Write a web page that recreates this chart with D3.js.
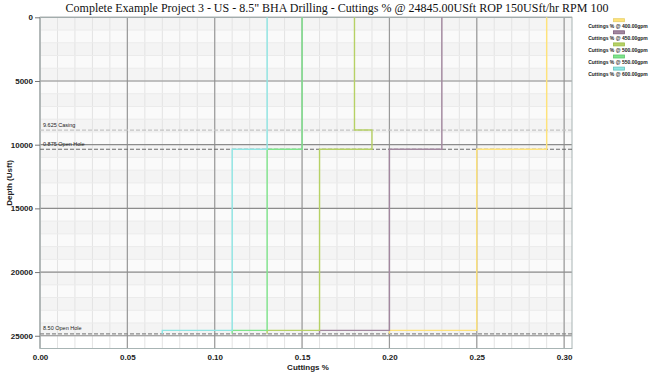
<!DOCTYPE html>
<html>
<head>
<meta charset="UTF-8">
<title>Cuttings % vs Depth</title>
<script src="https://cdn.jsdelivr.net/npm/d3@7"></script>
<style>
body { margin:0; background:#fff; }
text { font-family: "Liberation Sans", Arial, sans-serif; }
</style>
</head>
<body>
<script>
// section boundaries (USft): surface, casing shoe, open hole top, BHA top, TD
var depths = [0, 8850, 10360, 24580, 24845];
var flows = ["400.00", "450.00", "500.00", "550.00", "600.00"];
// cuttings % per section (one value for each interval between depths)
var cut400 = [0.29, 0.29, 0.25, 0.20];
var cut450 = [0.23, 0.23, 0.20, 0.16];
var cut500 = [0.18, 0.19, 0.16, 0.13];
var cut550 = [0.15, 0.15, 0.13, 0.11];
var cut600 = [0.13, 0.13, 0.11, 0.07];
var series = [cut400, cut450, cut500, cut550, cut600];
var lineColors = ["#ffe37a", "#a2879f", "#b6d165", "#7fe58c", "#8fe6e4"];
var swatchColors = ["#e6cf6a", "#7d5c7c", "#9cbd48", "#5cc86c", "#62c3bc"];

var casings = [
  {depth: 8850, label: "9.625 Casing", color: "#c4c4c4"},
  {depth: 10360, label: "0.875 Open Hole", color: "#6a6a6a"},
  {depth: 24845, label: "8.50 Open Hole", color: "#8a8a8a"}
];
var xTicks = [0, 0.05, 0.10, 0.15, 0.20, 0.25, 0.30];
var yTicks = [0, 5000, 10000, 15000, 20000, 25000];

var W = 650, H = 375;
var pL = 40, pR = 572, pT = 17.3, pB = 348.5;

var svg = d3.select("body").append("svg").attr("width", W).attr("height", H);

var x = d3.scaleLinear().domain([0, 0.3045]).range([pL, pR]);
var y = d3.scaleLinear().domain([0, 26000]).range([pT, pB]);

// plot background and light bands
svg.append("rect").attr("x", pL).attr("y", pT).attr("width", pR - pL).attr("height", y(25000) - pT)
  .attr("fill", "#fafafa");
var bands = d3.range(0, 25000, 2000);
svg.selectAll("rect.band").data(bands).enter().append("rect")
  .attr("x", pL).attr("width", pR - pL)
  .attr("y", function(d){ return y(d); })
  .attr("height", function(d){ return y(d + 1000) - y(d); })
  .attr("fill", "#f4f4f4");

// minor grid
svg.selectAll("line.vmin").data(d3.range(0, 0.305, 0.01)).enter().append("line")
  .attr("x1", function(d){ return x(d); }).attr("x2", function(d){ return x(d); })
  .attr("y1", pT).attr("y2", pB)
  .attr("stroke", "#e3e3e3").attr("stroke-width", 1);
svg.selectAll("line.hmin").data(d3.range(1000, 25001, 1000)).enter().append("line")
  .attr("y1", function(d){ return y(d); }).attr("y2", function(d){ return y(d); })
  .attr("x1", pL).attr("x2", pR)
  .attr("stroke", "#ebebeb").attr("stroke-width", 1);

// major grid
svg.selectAll("line.vmaj").data(xTicks).enter().append("line")
  .attr("x1", function(d){ return x(d); }).attr("x2", function(d){ return x(d); })
  .attr("y1", pT).attr("y2", pB)
  .attr("stroke", "#9a9a9a").attr("stroke-width", 1.2);
svg.selectAll("line.hmaj").data(yTicks).enter().append("line")
  .attr("y1", function(d){ return y(d); }).attr("y2", function(d){ return y(d); })
  .attr("x1", pL).attr("x2", pR)
  .attr("stroke", "#8c8c8c").attr("stroke-width", 1.2);

// frame
svg.append("rect").attr("x", pL).attr("y", pT)
  .attr("width", pR - pL).attr("height", pB - pT)
  .attr("fill", "none").attr("stroke", "#a8b4b4").attr("stroke-width", 1);

// casing lines
var cg = svg.selectAll("g.casing").data(casings).enter().append("g");
cg.append("line")
  .attr("x1", pL).attr("x2", pR)
  .attr("y1", function(d){ return y(d.depth); }).attr("y2", function(d){ return y(d.depth); })
  .attr("stroke", function(d){ return d.color; })
  .attr("stroke-width", 1.2).attr("stroke-dasharray", "4,2");
cg.append("text")
  .attr("x", pL + 3).attr("y", function(d){ return y(d.depth) - 3.5; })
  .attr("font-size", "5.5px").attr("fill", "#222")
  .text(function(d){ return d.label; });

// step lines
function stepPoints(vals) {
  var pts = [];
  vals.forEach(function(v, i){
    pts.push([v, depths[i]]);
    pts.push([v, depths[i + 1]]);
  });
  return pts;
}
var line = d3.line().x(function(d){ return x(d[0]); }).y(function(d){ return y(d[1]); });
svg.selectAll("path.series").data(series).enter().append("path")
  .attr("d", function(d){ return line(stepPoints(d)); })
  .attr("fill", "none")
  .attr("stroke", function(d, i){ return lineColors[i]; })
  .attr("stroke-width", 1.4);

// axes
var xAxis = d3.axisBottom(x).tickValues(xTicks).tickFormat(d3.format(".2f")).tickSize(0).tickPadding(6);
var gx = svg.append("g").attr("transform", "translate(0," + pB + ")").call(xAxis);
gx.select(".domain").remove();
gx.selectAll("text").attr("font-size", "8px").attr("font-weight", "bold").attr("fill", "#222")
  .style("font-family", "Liberation Sans, Arial, sans-serif");

var yAxis = d3.axisLeft(y).tickValues(yTicks).tickFormat(d3.format("d")).tickSize(5).tickPadding(2);
var gy = svg.append("g").attr("transform", "translate(" + pL + ",0)").call(yAxis);
gy.select(".domain").remove();
gy.selectAll("line").attr("stroke", "#777");
gy.selectAll("text").attr("font-size", "8px").attr("font-weight", "bold").attr("fill", "#222")
  .style("font-family", "Liberation Sans, Arial, sans-serif");

svg.append("text").attr("x", (pL + pR) / 2 + 2).attr("y", 370)
  .attr("text-anchor", "middle").attr("font-size", "8px").attr("font-weight", "bold").attr("fill", "#222")
  .text("Cuttings %");
svg.append("text").attr("transform", "translate(12," + ((pT + pB) / 2) + ") rotate(-90)")
  .attr("text-anchor", "middle").attr("font-size", "8px").attr("font-weight", "bold").attr("fill", "#222")
  .text("Depth (Usft)");

// title
svg.append("text").attr("x", 337).attr("y", 12)
  .attr("text-anchor", "middle").attr("font-size", "12px").attr("fill", "#111")
  .style("font-family", "Liberation Serif, Times New Roman, serif")
  .text("Complete Example Project 3 - US - 8.5\" BHA Drilling - Cuttings % @ 24845.00USft ROP 150USft/hr RPM 100");

// legend
var lg = svg.selectAll("g.legend").data(flows).enter().append("g")
  .attr("transform", function(d, i){ return "translate(619," + (20.5 + i * 12.1) + ")"; });
lg.append("rect").attr("x", -5.5).attr("y", -1.8).attr("width", 11).attr("height", 3)
  .attr("fill", function(d, i){ return lineColors[i]; })
  .attr("stroke", function(d, i){ return swatchColors[i]; }).attr("stroke-width", 0.8);
lg.append("text").attr("x", -1).attr("y", 7).attr("text-anchor", "middle")
  .attr("font-size", "5px").attr("font-weight", "bold").attr("fill", "#222")
  .text(function(d){ return "Cuttings % @ " + d + "gpm"; });
</script>
</body>
</html>
